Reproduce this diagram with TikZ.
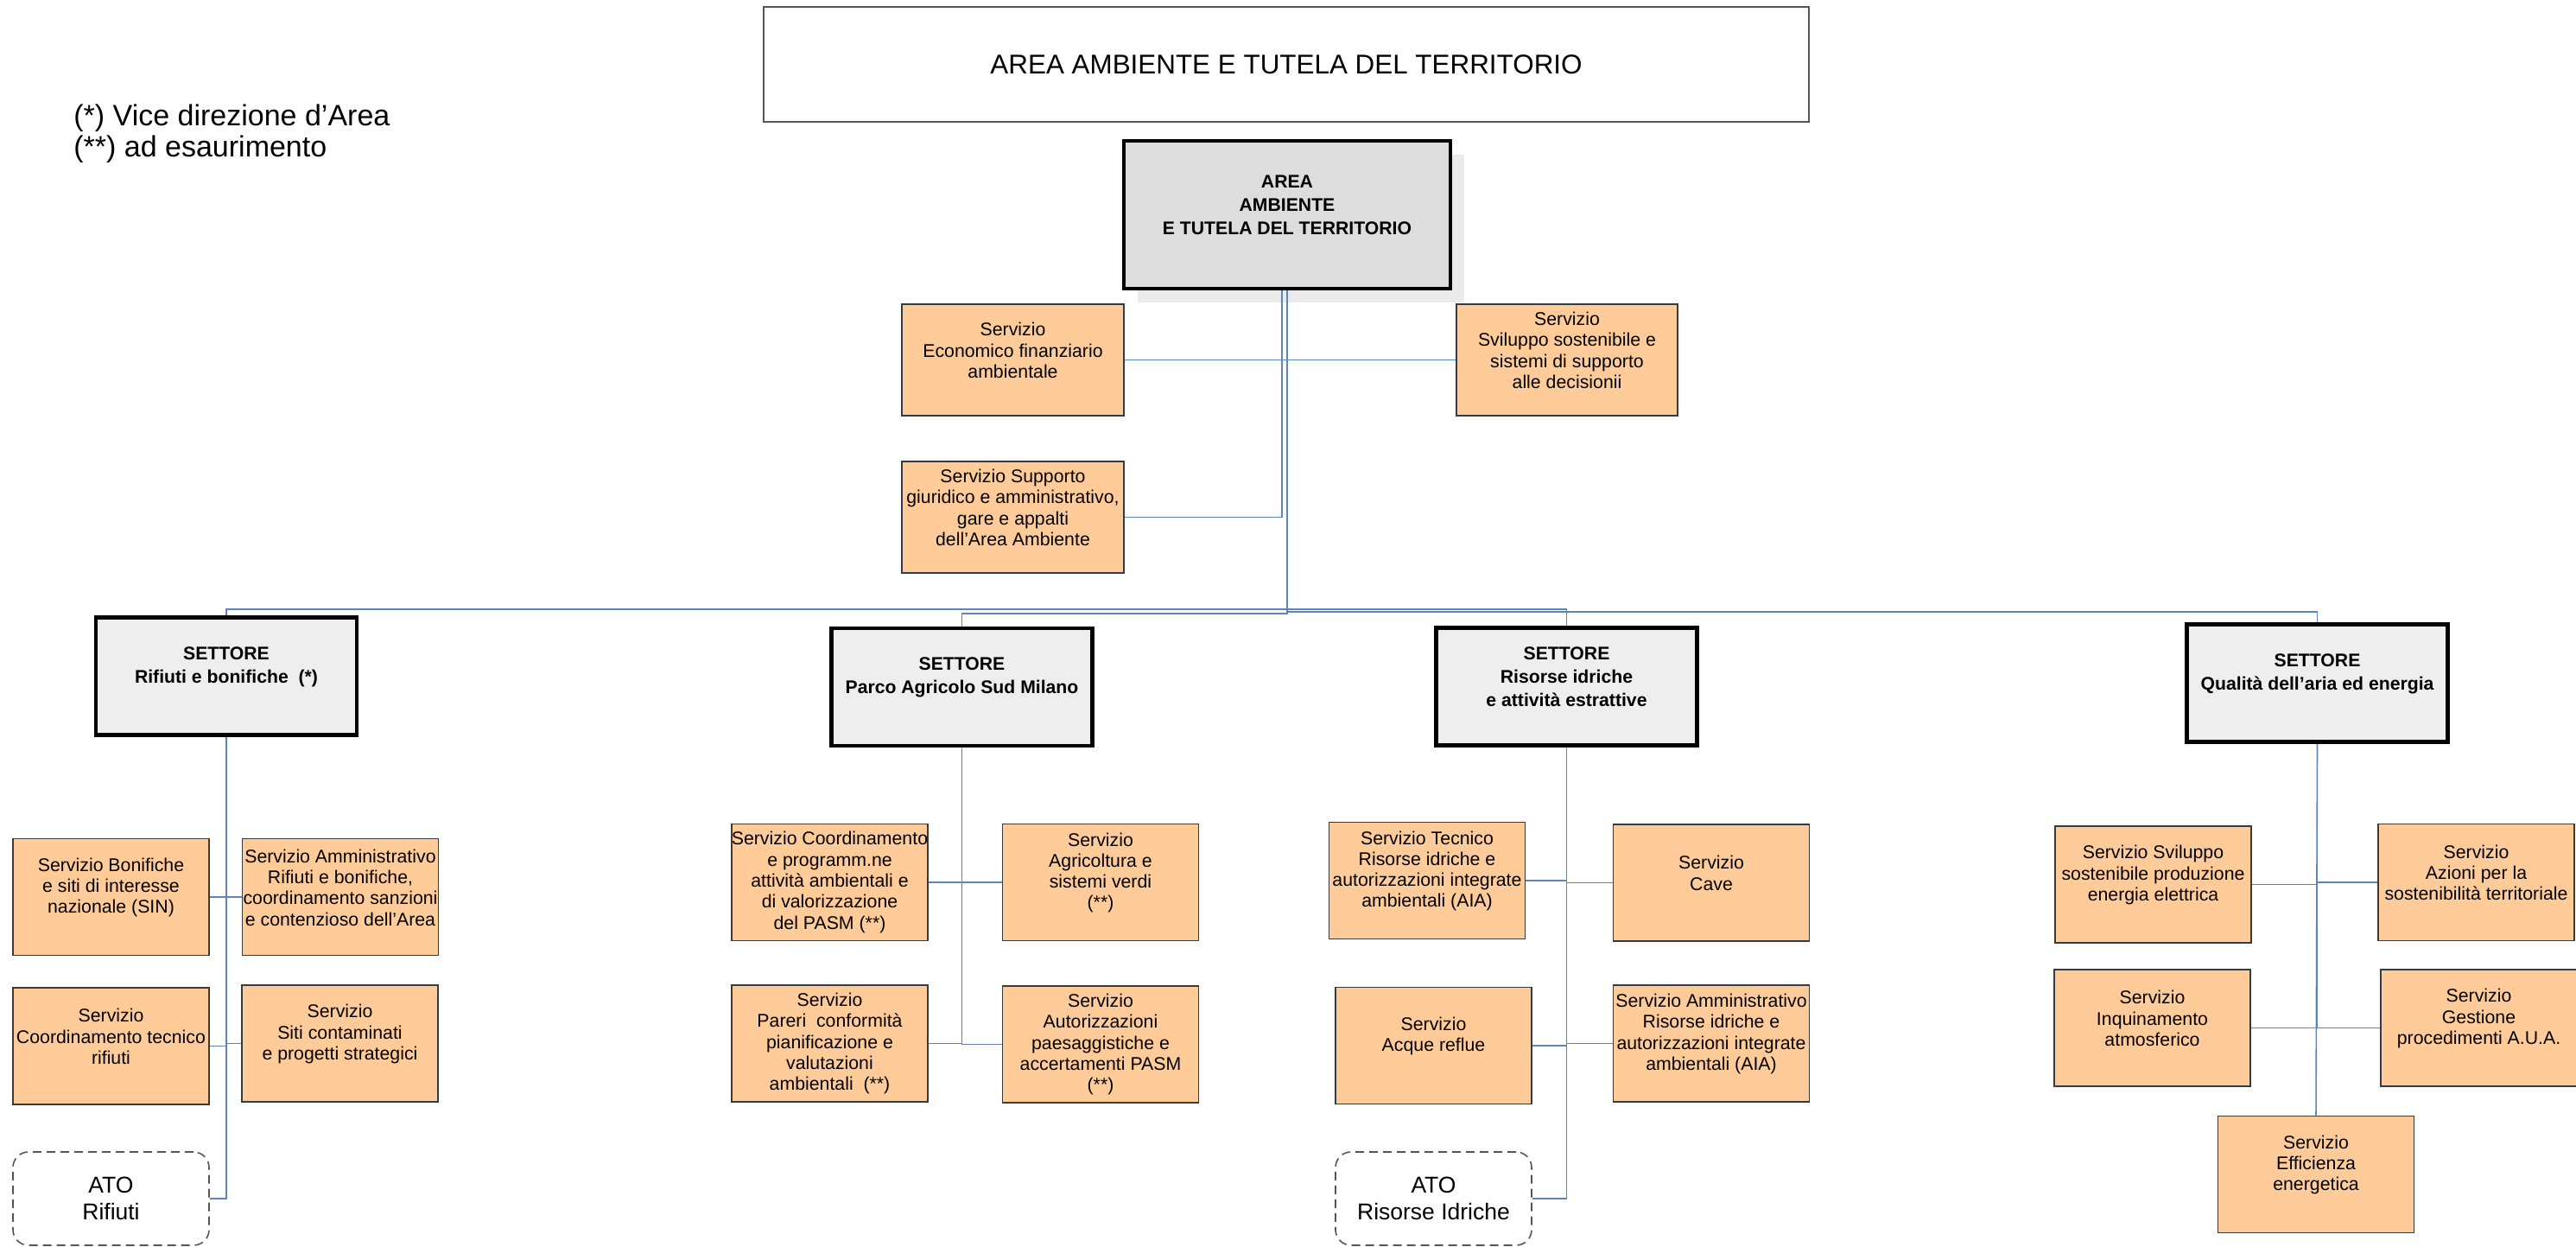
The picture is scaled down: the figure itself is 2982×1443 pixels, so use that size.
\documentclass[tikz,border=0pt]{standalone}
\usepackage{fontspec}
\setmainfont{Liberation Sans}
\definecolor{svcfill}{HTML}{FFCC99}
\definecolor{svcborder}{HTML}{3A3A3A}
\definecolor{settfill}{HTML}{EEEEEE}
\definecolor{areafill}{HTML}{DDDDDD}
\definecolor{shadowcol}{HTML}{EBEBEB}
\definecolor{conncol}{HTML}{5B84C0}
\definecolor{titleborder}{HTML}{555555}
\newcommand\svcfont{\fontsize{10.65}{12.15}\selectfont}
\newcommand\settfont{\fontsize{10.6}{13.5}\selectfont\bfseries}
\newcommand\atofont{\fontsize{13.25}{15.35}\selectfont}
\newcommand\titlefont{\fontsize{15.7}{18}\selectfont}
\newcommand\legfont{\fontsize{17}{18}\selectfont}
\begin{document}
\begin{tikzpicture}[x=0.5pt,y=-0.5pt,
  svc/.style={draw=svcborder, fill=svcfill, line width=0.8pt, minimum width=113.5pt, minimum height=67.5pt, inner sep=0pt},
  svct/.style={align=center, font=\svcfont, yshift=5.5pt, inner sep=0pt},
  svct0/.style={align=center, font=\svcfont, inner sep=0pt},
  sett/.style={draw=black, fill=settfill, line width=2.4pt, minimum width=151pt, minimum height=68pt, inner sep=0pt},
  settt/.style={align=center, font=\settfont, yshift=5.5pt, inner sep=0pt},
  atobox/.style={draw=titleborder, line width=0.8pt, dash pattern=on 5pt off 3pt, rounded corners=9pt, minimum width=113.5pt, minimum height=54pt, inner sep=0pt, align=center, font=\atofont},
  conn/.style={draw=conncol, line width=0.8pt}]
\useasboundingbox (0,0) rectangle (2982,1443);

% title and legend
\node[draw=titleborder, line width=0.8pt, minimum width=605pt, minimum height=66.5pt, font=\titlefont] (title) at (1489,74.5) {AREA AMBIENTE E TUTELA DEL TERRITORIO};
\node[anchor=north west, inner sep=0pt, align=left, font=\legfont] (legend) at (85,120) {(*) Vice direzione d’Area\\(**) ad esaurimento};

% area box with shadow
\fill[shadowcol] (1317,179) rectangle (1695,350);
\node[draw=black, fill=areafill, line width=2.4pt, minimum width=189pt, minimum height=85.5pt, inner sep=0pt,
  label={[settt]center:{AREA\\AMBIENTE\\E TUTELA DEL TERRITORIO}}] (area) at (1490,248.5) {};

% staff services
\node[svc, minimum width=128.5pt, minimum height=64.5pt, label={[svct]center:{Servizio\\Economico finanziario\\ambientale}}] (eco) at (1172.5,416.5) {};
\node[svc, minimum width=128pt, minimum height=64.5pt, label={[svct]center:{Servizio\\Sviluppo sostenibile e\\sistemi di supporto\\alle decisionii}}] (svi) at (1814,416.5) {};
\node[svc, minimum width=128.5pt, minimum height=64.5pt, label={[svct]center:{Servizio Supporto\\giuridico e amministrativo,\\gare e appalti\\dell’Area Ambiente}}] (sup) at (1172.5,598.5) {};

% settori
\node[sett, label={[settt]center:{SETTORE\\Rifiuti e bonifiche~~(*)}}] (rif) at (262,782.5) {};
\node[sett, label={[settt]center:{SETTORE\\Parco Agricolo Sud Milano}}] (parco) at (1113.5,795) {};
\node[sett, label={[settt]center:{SETTORE\\Risorse idriche\\e attività estrattive}}] (ris) at (1813.5,794.5) {};
\node[sett, label={[settt]center:{SETTORE\\Qualità dell’aria ed energia}}] (qual) at (2682.5,790.5) {};

% Rifiuti services
\node[svc, label={[svct]center:{Servizio Bonifiche\\e siti di interesse\\nazionale (SIN)}}] (bon) at (128.5,1038) {};
\node[svc, label={[svct]center:{Servizio Amministrativo\\Rifiuti e bonifiche,\\coordinamento sanzioni\\e contenzioso dell’Area}}] (amm) at (394,1038) {};
\node[svc, label={[svct]center:{Servizio\\Coordinamento tecnico\\rifiuti}}] (ctr) at (128.5,1210.5) {};
\node[svc, label={[svct]center:{Servizio\\Siti contaminati\\e progetti strategici}}] (siti) at (393.5,1207.5) {};
\node[atobox] (ato1) at (128.5,1387) {ATO\\Rifiuti};

% Parco services
\node[svc, label={[svct0]center:{Servizio Coordinamento\\e programm.ne\\attività ambientali e\\di valorizzazione\\del PASM (**)}}] (coo) at (960.5,1021) {};
\node[svc, label={[svct]center:{Servizio\\Agricoltura e\\sistemi verdi\\(**)}}] (agr) at (1274,1021) {};
\node[svc, label={[svct0]center:{Servizio\\Pareri~ conformità\\pianificazione e\\valutazioni\\ambientali~ (**)}}] (par) at (960.5,1207.5) {};
\node[svc, label={[svct0]center:{Servizio\\Autorizzazioni\\paesaggistiche e\\accertamenti PASM\\(**)}}] (aut) at (1274,1208.5) {};

% Risorse services
\node[svc, label={[svct]center:{Servizio Tecnico\\Risorse idriche e\\autorizzazioni integrate\\ambientali (AIA)}}] (tec) at (1652,1019) {};
\node[svc, label={[svct]center:{Servizio\\Cave}}] (cave) at (1981,1021.5) {};
\node[svc, label={[svct]center:{Servizio\\Acque reflue}}] (acq) at (1659.5,1210) {};
\node[svc, label={[svct]center:{Servizio Amministrativo\\Risorse idriche e\\autorizzazioni integrate\\ambientali (AIA)}}] (ammr) at (1981,1207.5) {};
\node[atobox] (ato2) at (1659.5,1387) {ATO\\Risorse Idriche};

% Qualita services
\node[svc, label={[svct]center:{Servizio Sviluppo\\sostenibile produzione\\energia elettrica}}] (svs) at (2492.5,1023.5) {};
\node[svc, label={[svct]center:{Servizio\\Azioni per la\\sostenibilità territoriale}}] (azi) at (2866.5,1021) {};
\node[svc, label={[svct]center:{Servizio\\Inquinamento\\atmosferico}}] (inq) at (2491.5,1189.5) {};
\node[svc, label={[svct]center:{Servizio\\Gestione\\procedimenti A.U.A.}}] (ges) at (2869.5,1189.5) {};
\node[svc, label={[svct]center:{Servizio\\Efficienza\\energetica}}] (eff) at (2681,1359) {};

% bus coordinates
\coordinate (busA) at (1490,705);
\coordinate (busB) at (1490,710);
\coordinate (busC) at (1490,705);
\coordinate (busD) at (1490,708);

% connectors from area
\draw[conn] (eco.east) -- (svi.west);
\draw[conn] ([xshift=-3pt]area.south) |- (sup.east);
\draw[conn] (area.south) -- (busA) -| (rif.north);
\draw[conn] (area.south) -- (busB) -| (parco.north);
\draw[conn] (area.south) -- (busC) -| (ris.north);
\draw[conn] (area.south) -- (busD) -| (qual.north);

% Rifiuti
\draw[conn] (rif.south) |- (ato1.east);
\draw[conn] (rif.south) |- (bon.east);
\draw[conn] (rif.south) |- (amm.west);
\draw[conn] (rif.south) |- (ctr.east);
\draw[conn] (rif.south) |- (siti.west);

% Parco
\draw[conn] (parco.south) |- (coo.east);
\draw[conn] (parco.south) |- (agr.west);
\draw[conn] (parco.south) |- (par.east);
\draw[conn] (parco.south) |- (aut.west);

% Risorse
\draw[conn] (ris.south) |- (ato2.east);
\draw[conn] (ris.south) |- (tec.east);
\draw[conn] (ris.south) |- (cave.west);
\draw[conn] (ris.south) |- (acq.east);
\draw[conn] (ris.south) |- (ammr.west);

% Qualita
\draw[conn] (qual.south) -- (eff.north);
\draw[conn] (qual.south) |- (svs.east);
\draw[conn] (qual.south) |- (azi.west);
\draw[conn] (qual.south) |- (inq.east);
\draw[conn] (qual.south) |- (ges.west);
\end{tikzpicture}
\end{document}
